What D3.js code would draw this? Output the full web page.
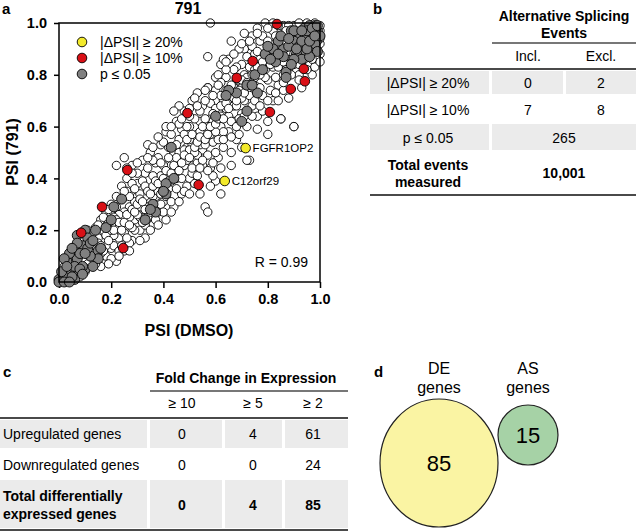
<!DOCTYPE html>
<html>
<head>
<meta charset="utf-8">
<script src="https://cdn.jsdelivr.net/npm/d3@7/dist/d3.min.js"></script>
<style>
  body { margin: 0; background: #fff; }
  svg { display: block; font-family: "Liberation Sans", Arial, sans-serif; }
</style>
</head>
<body>
<svg id="fig" width="638" height="532"></svg>
<script>
// ---------- panel a: PSI scatter (DMSO vs 791) ----------
const otherEvents = [
  [0.01,0.03],[0.02,0.06],[0.03,0.02],[0.04,0.07],[0.05,0.04],[0.06,0.09],[0.07,0.05],[0.03,0.09],[0.08,0.12],[0.09,0.07],
  [0.06,0.13],[0.1,0.04],[0.11,0.1],[0.12,0.07],[0.13,0.14],[0.1,0.16],[0.08,0.02],[0.14,0.09],[0.12,0.18],[0.15,0.12],
  [0.16,0.06],[0.17,0.16],[0.14,0.21],[0.18,0.1],[0.19,0.19],[0.16,0.24],[0.2,0.13],[0.21,0.22],[0.18,0.27],[0.22,0.08],
  [0.23,0.17],[0.2,0.3],[0.24,0.25],[0.22,0.33],[0.25,0.12],[0.26,0.21],[0.27,0.29],[0.24,0.37],[0.28,0.16],[0.29,0.24],
  [0.26,0.4],[0.3,0.33],[0.28,0.45],[0.31,0.2],[0.32,0.28],[0.3,0.38],[0.33,0.17],[0.34,0.25],[0.33,0.42],[0.35,0.31],
  [0.32,0.47],[0.36,0.22],[0.37,0.36],[0.35,0.5],[0.38,0.27],[0.39,0.41],[0.37,0.46],[0.4,0.31],[0.41,0.24],[0.39,0.53],
  [0.42,0.36],[0.43,0.45],[0.41,0.58],[0.44,0.29],[0.45,0.4],[0.44,0.5],[0.46,0.55],[0.45,0.62],[0.47,0.34],[0.48,0.45],
  [0.47,0.59],[0.49,0.52],[0.48,0.66],[0.5,0.4],[0.51,0.48],[0.5,0.6],[0.52,0.55],[0.51,0.7],[0.53,0.46],[0.54,0.62],
  [0.53,0.73],[0.55,0.51],[0.56,0.58],[0.55,0.68],[0.57,0.75],[0.58,0.44],[0.58,0.63],[0.57,0.87],[0.59,0.54],[0.6,0.7],
  [0.6,0.79],[0.61,0.48],[0.62,0.6],[0.62,0.84],[0.63,0.66],[0.63,0.52],[0.64,0.74],[0.65,0.58],[0.65,0.86],[0.66,0.69],
  [0.66,0.93],[0.67,0.62],[0.68,0.78],[0.68,0.55],[0.69,0.71],[0.7,0.84],[0.7,0.65],[0.71,0.9],[0.72,0.74],[0.72,0.6],
  [0.73,0.8],[0.73,0.47],[0.74,0.68],[0.75,0.88],[0.75,0.76],[0.76,0.64],[0.77,0.83],[0.77,0.93],[0.78,0.72],[0.79,0.87],
  [0.79,1.0],[0.8,0.78],[0.8,0.62],[0.81,0.92],[0.82,0.7],[0.8,0.57],[0.83,0.84],[0.84,0.96],[0.84,0.76],[0.85,0.63],
  [0.86,0.88],[0.86,0.8],[0.87,0.94],[0.88,0.71],[0.88,0.85],[0.89,0.98],[0.9,0.6],[0.9,0.9],[0.91,0.82],[0.91,0.95],
  [0.92,0.87],[0.93,0.75],[0.93,0.99],[0.94,0.91],[0.95,0.84],[0.95,0.96],[0.96,0.89],[0.97,0.93],[0.97,0.8],[0.98,0.97],
  [0.98,0.87],[0.99,0.91],[0.99,0.95],[1.0,0.88],[1.0,0.92],[1.0,0.97],[0.58,1.0],[0.61,0.8],[0.57,0.75],[0.52,0.71],
  [0.05,0.11],[0.07,0.1],[0.09,0.14],[0.11,0.13],[0.13,0.11],[0.15,0.17],[0.17,0.2],[0.19,0.23],[0.21,0.18],[0.23,0.21],
  [0.25,0.27],[0.27,0.25],[0.29,0.31],[0.31,0.29],[0.33,0.33],[0.35,0.36],[0.37,0.33],[0.39,0.37],[0.41,0.4],[0.43,0.39],
  [0.45,0.44],[0.47,0.49],[0.49,0.47],[0.51,0.53],[0.53,0.57],[0.55,0.56],[0.57,0.6],[0.59,0.62],[0.61,0.66],[0.63,0.7],
  [0.65,0.72],[0.67,0.75],[0.69,0.78],[0.71,0.8],[0.73,0.83],[0.75,0.82],[0.77,0.86],[0.79,0.84],[0.81,0.88],[0.83,0.9],
  [0.85,0.92],[0.87,0.9],[0.89,0.93],[0.91,0.97],[0.93,0.95],[0.95,0.98],[0.97,0.99],[0.99,0.99],
  [0.2,0.26],[0.22,0.29],[0.24,0.32],[0.26,0.35],[0.28,0.38],[0.3,0.42],[0.32,0.39],[0.34,0.44],[0.36,0.41],[0.38,0.48],
  [0.4,0.45],[0.42,0.52],[0.44,0.47],[0.46,0.5],[0.48,0.57],[0.5,0.55],[0.52,0.63],[0.54,0.66],[0.56,0.63],[0.58,0.69],
  [0.6,0.74],[0.62,0.72],[0.64,0.79],[0.66,0.76],[0.68,0.83],[0.7,0.75],[0.72,0.87],[0.74,0.91],[0.76,0.89],[0.78,0.95],
  [0.8,0.93],[0.82,0.97],[0.84,0.88],[0.86,0.99],[0.88,0.96],[0.9,0.99],[0.92,0.93],[0.94,0.97],[0.96,0.95],[0.98,0.93],
  [1.0,0.99],
  [0.21,0.14],[0.23,0.12],[0.25,0.19],[0.27,0.15],[0.29,0.2],[0.31,0.25],[0.33,0.22],[0.35,0.27],[0.37,0.24],[0.39,0.3],
  [0.41,0.33],[0.43,0.31],[0.45,0.36],[0.47,0.4],[0.49,0.37],[0.51,0.42],[0.53,0.41],[0.55,0.45],[0.57,0.49],[0.59,0.46],
  [0.61,0.55],[0.63,0.58],[0.65,0.64],[0.67,0.68],[0.69,0.63],[0.71,0.7],[0.73,0.72],[0.75,0.7],[0.77,0.75],[0.79,0.79],
  [0.81,0.74],[0.83,0.79],[0.85,0.84],[0.87,0.82],[0.89,0.88],[0.91,0.86],[0.93,0.89],[0.95,0.92],[0.97,0.9],[0.99,0.86],
  [0.56,0.29],[0.57,0.27],[0.54,0.34],[0.62,0.34],[0.6,0.39],[0.72,0.47],[0.7,0.52],[0.66,0.45],[0.85,0.63],[0.9,0.6],
  [0.41,0.6],[0.34,0.53],[0.22,0.45],[0.25,0.48],[0.63,0.86],[0.46,0.68],[0.44,0.66],[0.53,0.49],[0.55,0.47],[0.51,0.44],
  [0.62,0.44],[0.59,0.41],[0.58,0.37],[0.66,0.5],[0.69,0.57],[0.76,0.59],[0.78,0.66],[0.84,0.7],[0.86,0.74],[0.92,0.8],
  [0.96,0.84],[0.98,0.83],[1.0,0.85],[0.88,0.99],[0.92,1.0],[0.95,1.0],[0.98,1.0],[0.84,0.99],[0.82,1.0],[0.76,0.98],
  [0.74,0.95],[0.71,0.96],[0.69,0.9],[0.67,0.82],[0.64,0.82],[0.62,0.77],[0.6,0.67],[0.56,0.7],[0.54,0.58],[0.5,0.64],
  [0.49,0.6],[0.46,0.61],[0.43,0.57],[0.4,0.54],[0.38,0.56],[0.36,0.47],[0.33,0.37],[0.31,0.34],[0.29,0.36],[0.27,0.33],
  [0.25,0.35],[0.23,0.26],[0.21,0.25],[0.19,0.28],[0.17,0.25],[0.15,0.22],[0.13,0.19],[0.11,0.2],[0.09,0.17],[0.07,0.13],
  [0.18,0.14],[0.16,0.11],[0.14,0.07],[0.2,0.09],[0.24,0.14],[0.26,0.17],[0.28,0.21],[0.3,0.26],[0.32,0.23],[0.34,0.29],
  [0.36,0.33],[0.38,0.35],[0.4,0.36],[0.42,0.42],[0.44,0.43],[0.46,0.46],[0.48,0.51],[0.5,0.51],[0.52,0.5],[0.54,0.53],
  [0.56,0.53],[0.58,0.57],[0.6,0.58],[0.62,0.64],[0.64,0.67],[0.66,0.62],[0.68,0.68],[0.7,0.71],[0.72,0.79],[0.74,0.77],
  [0.76,0.8],[0.78,0.82],[0.8,0.85],[0.82,0.83],[0.84,0.83],[0.86,0.85],[0.88,0.8],[0.9,0.84],[0.92,0.84],[0.94,0.86],
  [0.96,0.92],[0.98,0.95],[1.0,0.94],[0.99,0.97],[0.97,0.97],[0.94,0.94],[0.9,0.95],[0.87,0.97],
  [0.02,0.04],[0.04,0.02],[0.05,0.06],[0.06,0.04],[0.08,0.08],[0.09,0.1],[0.1,0.08],[0.11,0.07],[0.12,0.12],[0.13,0.09],
  [0.14,0.14],[0.15,0.15],[0.16,0.14],[0.17,0.12],[0.18,0.18],[0.19,0.16],[0.2,0.2],[0.21,0.2],[0.22,0.24],[0.23,0.23],
  [0.24,0.2],[0.25,0.23],[0.26,0.26],[0.27,0.22],[0.28,0.28],[0.29,0.27],[0.3,0.3],[0.31,0.32],[0.32,0.31],[0.33,0.28],
  [0.34,0.35],[0.35,0.34],[0.36,0.37],[0.37,0.39],[0.38,0.38],[0.39,0.34],[0.4,0.4],[0.41,0.43],[0.42,0.39],[0.43,0.42],
  [0.44,0.45],[0.45,0.48],[0.46,0.43],[0.47,0.46],[0.48,0.49],[0.49,0.55],[0.5,0.48],[0.51,0.57],[0.52,0.52],[0.53,0.54],
  [0.54,0.56],[0.55,0.6],[0.56,0.55],[0.57,0.57],[0.58,0.6],[0.59,0.65],[0.6,0.61],[0.61,0.63],[0.62,0.68],[0.63,0.63],
  [0.64,0.69],[0.65,0.67],[0.66,0.72],[0.67,0.71],[0.68,0.7],[0.69,0.74],[0.7,0.78],[0.71,0.73],[0.72,0.77],[0.73,0.76],
  [0.74,0.8],[0.75,0.79],[0.76,0.83],[0.77,0.8],[0.78,0.85],[0.79,0.82],[0.8,0.88],[0.81,0.84],[0.82,0.87],[0.83,0.86],
  [0.84,0.9],[0.85,0.88],[0.86,0.93],[0.87,0.87],[0.88,0.89],[0.89,0.91],[0.9,0.88],[0.91,0.92],[0.92,0.95],[0.93,0.92],
  [0.94,0.95],[0.95,0.88],[0.96,0.97],[0.97,0.96],[0.98,0.9],[0.99,0.93],
  [0.28,0.42],[0.3,0.46],[0.26,0.44],[0.34,0.48],[0.36,0.52],[0.39,0.46],[0.42,0.48],[0.45,0.53],[0.43,0.6],[0.47,0.63],
  [0.5,0.67],[0.53,0.68],[0.56,0.74],[0.59,0.72],[0.61,0.76],[0.64,0.85],[0.67,0.88],[0.7,0.92],[0.73,0.93],[0.76,0.96],
  [0.8,0.98],[0.83,0.95],[0.38,0.22],[0.4,0.27],[0.43,0.27],[0.46,0.31],[0.48,0.35],[0.5,0.34],[0.52,0.38],[0.54,0.44],
  [0.57,0.43],[0.6,0.5],[0.63,0.55],[0.66,0.56],[0.68,0.6],[0.71,0.64],[0.74,0.64],[0.77,0.68],[0.8,0.7],[0.83,0.73],
  [0.86,0.77],[0.89,0.8],[0.92,0.78],[0.95,0.82],[0.97,0.86],[0.31,0.16],[0.35,0.2],[0.27,0.12],[0.19,0.07],[0.23,0.1]
];

// p <= 0.05 (grey)
const sigEvents = [
  [0.86,0.9],[0.83,0.85],[0.79,0.88],[0.87,0.81],[0.72,0.76],[0.68,0.73],[0.65,0.74],[0.72,0.66],[0.6,0.64],[0.43,0.52],
  [0.92,0.96],[0.94,0.98],[0.97,0.94],[0.97,0.9],[0.94,0.89],[0.9,0.93],[0.99,0.97],[0.96,0.99],[0.92,0.91],[0.89,0.97],
  [0.98,0.92],[0.95,0.95],[0.91,0.88],[0.93,0.86],[0.88,0.91],[1.0,0.95],[0.99,0.89],[0.84,0.93],[0.96,0.87],[0.82,0.9],
  [0.87,0.79],[0.9,0.86],[0.85,0.95],[0.8,0.91],[0.75,0.8],[0.64,0.72],[0.7,0.62],[0.98,0.99],[0.93,0.93],[0.95,0.9],
  [0.95,0.97],[0.97,0.98],[0.99,0.99],[0.9,0.97],[0.88,0.94],[0.86,0.87],[0.84,0.88],[0.81,0.86],[0.78,0.82],[0.93,0.97],
  [0.96,0.93],[0.98,0.95],[0.91,0.9],[0.89,0.84],[0.76,0.73],[0.74,0.76],
  [0.41,0.38],[0.44,0.4],[0.41,0.34],[0.36,0.3],[0.37,0.27],[0.33,0.24],[0.24,0.32],[0.21,0.29],[0.14,0.2],[0.1,0.2],
  [0.07,0.18],[0.11,0.17],[0.09,0.14],[0.07,0.15],[0.15,0.12],[0.15,0.09],[0.12,0.1],[0.1,0.05],[0.07,0.03],[0.04,0.05],
  [0.05,0.09],[0.03,0.03],[0.01,0.01],[0.0,0.01],[0.03,0.08],[0.07,0.09],[0.06,0.06],[0.02,0.02],[0.09,0.06],[0.13,0.06],
  [0.11,0.13],[0.04,0.11],[0.12,0.15],[0.0,0.0],[0.01,0.04],[0.06,0.01],[0.02,0.09],[0.08,0.11],[0.4,0.35],[0.35,0.28],
  [0.05,0.02],[0.08,0.05],[0.03,0.06],[0.05,0.13],[0.1,0.11],[0.13,0.16],[0.16,0.13],[0.18,0.21],[0.2,0.24],[0.09,0.03],
  [0.02,0.0],[0.04,0.0]
];

// |dPSI| >= 10% (red)
const dpsi10Events = [
  [0.835,0.996],[0.742,0.853],[0.681,0.788],[0.938,0.823],[0.942,0.775],[0.888,0.745],[0.808,0.656],
  [0.492,0.652],[0.262,0.432],[0.535,0.375],[0.165,0.29],[0.085,0.19],[0.246,0.131]
];

// |dPSI| >= 20% (yellow) with gene names
const dpsi20Events = [[0.715,0.517],[0.635,0.39]];
const dpsi20Genes = ["FGFR1OP2", "C12orf29"];

const psiTicks = [0, 0.2, 0.4, 0.6, 0.8, 1.0];
const legendLabels = ["|ΔPSI| ≥ 20%", "|ΔPSI| ≥ 10%", "p ≤ 0.05"];
const legendFills = ["#f3ea2b", "#d91016", "#808080"];
const corrText = "R = 0.99";

// ---------- panel b: splicing table ----------
const asRowLabels = ["|ΔPSI| ≥ 20%", "|ΔPSI| ≥ 10%", "p ≤ 0.05"];
const asIncl = ["0", "7"];
const asExcl = ["2", "8"];
const asSignificant = "265";
const asTotal = "10,001";

// ---------- panel c: expression table ----------
const foldCols = ["≥ 10", "≥ 5", "≥ 2"];
const upregulated = [0, 4, 61];
const downregulated = [0, 0, 24];
const totalDE = [0, 4, 85];

// ---------- panel d: venn ----------
const vennNames = ["DE", "AS"];
const vennCounts = [85, 15];

const svg = d3.select("#fig");
const FONT_BOLD = 700;

// ===== panel a =====
const x = d3.scaleLinear().domain([0, 1]).range([59, 320]);
const y = d3.scaleLinear().domain([0, 1]).range([282, 23]);

const a = svg.append("g");

a.append("text").attr("x", 2).attr("y", 14).attr("font-size", 15).attr("font-weight", FONT_BOLD).text("a");
a.append("text").attr("x", 188).attr("y", 14).attr("text-anchor", "middle")
  .attr("font-size", 16).attr("font-weight", FONT_BOLD).text("791");

const yAxis = a.append("g").attr("transform", "translate(59,0)")
  .call(d3.axisLeft(y).tickValues(psiTicks).tickFormat(d3.format(".1f")).tickSize(5).tickPadding(7));
const xAxis = a.append("g").attr("transform", "translate(0,282)")
  .call(d3.axisBottom(x).tickValues(psiTicks).tickFormat(d3.format(".1f")).tickSize(6).tickPadding(6));
[xAxis, yAxis].forEach(g => {
  g.select(".domain").remove();
  g.selectAll("line").attr("stroke", "#000").attr("stroke-width", 1.5);
  g.selectAll("text").attr("font-size", 14.5).attr("font-weight", FONT_BOLD).attr("fill", "#000")
    .attr("font-family", "Liberation Sans, Arial, sans-serif");
});

function drawDots(data, fill, r) {
  a.append("g").selectAll("circle").data(data).join("circle")
    .attr("cx", d => x(d[0]))
    .attr("cy", d => y(d[1]))
    .attr("r", r)
    .attr("fill", fill)
    .attr("stroke", "#000")
    .attr("stroke-width", 0.9);
}
drawDots(otherEvents, "#fff", 4.2);
drawDots(sigEvents, "#808080", 5);
drawDots(dpsi10Events, "#d91016", 4.8);
drawDots(dpsi20Events, "#f3ea2b", 4.8);

a.selectAll(".gene").data(dpsi20Events).join("text")
  .attr("class", "gene")
  .attr("x", d => x(d[0]) + 7)
  .attr("y", d => y(d[1]) + 4)
  .attr("font-size", 11.5)
  .text((d, i) => dpsi20Genes[i]);

// frame
a.append("rect").attr("x", 59).attr("y", 23).attr("width", 261).attr("height", 259)
  .attr("fill", "none").attr("stroke", "#000").attr("stroke-width", 1.5);

// legend
const leg = a.append("g").selectAll("g").data(legendLabels).join("g")
  .attr("transform", (d, i) => `translate(82,${42 + i * 16})`);
leg.append("circle").attr("r", 4.8).attr("fill", (d, i) => legendFills[i]).attr("stroke", "#000").attr("stroke-width", 0.9);
leg.append("text").attr("x", 18).attr("y", 5).attr("font-size", 14).text(d => d);

a.append("text").attr("x", 308).attr("y", 267).attr("text-anchor", "end").attr("font-size", 14).text(corrText);

a.append("text").attr("x", 189).attr("y", 336).attr("text-anchor", "middle")
  .attr("font-size", 16).attr("font-weight", FONT_BOLD).text("PSI (DMSO)");
a.append("text").attr("transform", "translate(18,152) rotate(-90)").attr("text-anchor", "middle")
  .attr("font-size", 16).attr("font-weight", FONT_BOLD).text("PSI (791)");

// ===== panel b =====
const b = svg.append("g");
const shade = "#ebebeb";
const rule = "#4a4a4a";

b.append("text").attr("x", 373).attr("y", 14).attr("font-size", 15).attr("font-weight", FONT_BOLD).text("b");
b.append("text").attr("x", 564).attr("y", 21).attr("text-anchor", "middle").attr("font-size", 14)
  .attr("font-weight", FONT_BOLD).text("Alternative Splicing");
b.append("text").attr("x", 564).attr("y", 38).attr("text-anchor", "middle").attr("font-size", 14)
  .attr("font-weight", FONT_BOLD).text("Events");
b.append("line").attr("x1", 492).attr("x2", 636).attr("y1", 43).attr("y2", 43).attr("stroke", rule).attr("stroke-width", 1.5);
b.append("text").attr("x", 528).attr("y", 61).attr("text-anchor", "middle").attr("font-size", 14).text("Incl.");
b.append("text").attr("x", 601).attr("y", 61).attr("text-anchor", "middle").attr("font-size", 14).text("Excl.");
b.append("line").attr("x1", 370).attr("x2", 636).attr("y1", 69).attr("y2", 69).attr("stroke", rule).attr("stroke-width", 2);

const bRowCenters = [83, 110, 138];
// shaded rows 1 and 3
[[71, 94], [124, 150]].forEach(([y0, y1], k) => {
  const cells = k === 0 ? [[370, 489], [492, 563], [566, 636]] : [[370, 489], [492, 636]];
  cells.forEach(([x0, x1]) => {
    b.append("rect").attr("x", x0).attr("y", y0).attr("width", x1 - x0).attr("height", y1 - y0).attr("fill", shade);
  });
});
asRowLabels.forEach((lab, i) => {
  b.append("text").attr("x", 428).attr("y", bRowCenters[i] + 5).attr("text-anchor", "middle").attr("font-size", 14).text(lab);
});
asIncl.forEach((v, i) => {
  b.append("text").attr("x", 528).attr("y", bRowCenters[i] + 5).attr("text-anchor", "middle").attr("font-size", 14).text(v);
});
asExcl.forEach((v, i) => {
  b.append("text").attr("x", 601).attr("y", bRowCenters[i] + 5).attr("text-anchor", "middle").attr("font-size", 14).text(v);
});
b.append("text").attr("x", 564).attr("y", bRowCenters[2] + 5).attr("text-anchor", "middle").attr("font-size", 14).text(asSignificant);
b.append("text").attr("x", 428).attr("y", 170).attr("text-anchor", "middle").attr("font-size", 14)
  .attr("font-weight", FONT_BOLD).text("Total events");
b.append("text").attr("x", 428).attr("y", 187).attr("text-anchor", "middle").attr("font-size", 14)
  .attr("font-weight", FONT_BOLD).text("measured");
b.append("text").attr("x", 564).attr("y", 178).attr("text-anchor", "middle").attr("font-size", 14)
  .attr("font-weight", FONT_BOLD).text(asTotal);
b.append("line").attr("x1", 370).attr("x2", 636).attr("y1", 195).attr("y2", 195).attr("stroke", rule).attr("stroke-width", 2);

// ===== panel c =====
const c = svg.append("g");
c.append("text").attr("x", 3).attr("y", 377).attr("font-size", 15).attr("font-weight", FONT_BOLD).text("c");
c.append("text").attr("x", 246).attr("y", 383).attr("text-anchor", "middle").attr("font-size", 14)
  .attr("font-weight", FONT_BOLD).text("Fold Change in Expression");
c.append("line").attr("x1", 150).attr("x2", 348).attr("y1", 391).attr("y2", 391).attr("stroke", rule).attr("stroke-width", 1.5);

const cColX = [182, 253, 313];
const cCells = [[0, 147], [150, 222], [225, 282], [285, 348]];
foldCols.forEach((t, i) => {
  c.append("text").attr("x", cColX[i]).attr("y", 408).attr("text-anchor", "middle").attr("font-size", 14).text(t);
});
c.append("line").attr("x1", 0).attr("x2", 348).attr("y1", 418).attr("y2", 418).attr("stroke", rule).attr("stroke-width", 2);

[[420, 448], [480, 528]].forEach(([y0, y1]) => {
  cCells.forEach(([x0, x1]) => {
    c.append("rect").attr("x", x0).attr("y", y0).attr("width", x1 - x0).attr("height", y1 - y0).attr("fill", shade);
  });
});

const cRows = [
  { label: ["Upregulated genes"], vals: upregulated, yc: 434, bold: false },
  { label: ["Downregulated genes"], vals: downregulated, yc: 465, bold: false },
  { label: ["Total differentially", "expressed genes"], vals: totalDE, yc: 505, bold: true }
];
cRows.forEach(row => {
  const fw = row.bold ? FONT_BOLD : 400;
  row.label.forEach((l, j) => {
    const ly = row.label.length === 1 ? row.yc : row.yc - 9 + j * 18;
    c.append("text").attr("x", 3).attr("y", ly + 5).attr("font-size", 14).attr("font-weight", fw).text(l);
  });
  row.vals.forEach((v, i) => {
    c.append("text").attr("x", cColX[i]).attr("y", row.yc + 5).attr("text-anchor", "middle")
      .attr("font-size", 14).attr("font-weight", fw).text(v);
  });
});
c.append("line").attr("x1", 0).attr("x2", 348).attr("y1", 530).attr("y2", 530).attr("stroke", rule).attr("stroke-width", 2);

// ===== panel d =====
const d = svg.append("g");
d.append("text").attr("x", 374).attr("y", 377).attr("font-size", 15).attr("font-weight", FONT_BOLD).text("d");

const vennGeom = [
  { cx: 439, cy: 463, rx: 59, ry: 64, fill: "#faf4a3" },
  { cx: 528, cy: 435, rx: 30, ry: 30, fill: "#a6d2a6" }
];
vennGeom.forEach((g, i) => {
  d.append("ellipse").attr("cx", g.cx).attr("cy", g.cy).attr("rx", g.rx).attr("ry", g.ry)
    .attr("fill", g.fill).attr("stroke", "#222").attr("stroke-width", 1.2);
  d.append("text").attr("x", g.cx).attr("y", 374).attr("text-anchor", "middle").attr("font-size", 16).text(vennNames[i]);
  d.append("text").attr("x", g.cx).attr("y", 393).attr("text-anchor", "middle").attr("font-size", 16).text("genes");
  d.append("text").attr("x", g.cx).attr("y", g.cy + 8).attr("text-anchor", "middle").attr("font-size", 22).text(vennCounts[i]);
});
</script>
</body>
</html>
